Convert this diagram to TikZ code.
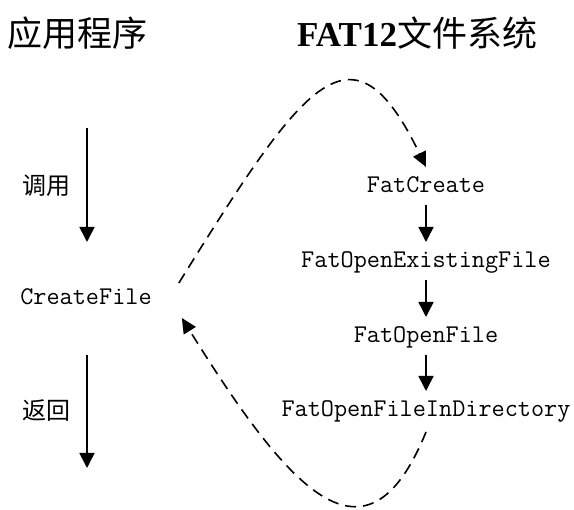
\documentclass[tikz,border=0pt]{standalone}
\usepackage{fontspec}
\setmainfont{Liberation Serif}
\newfontfamily\cjk{Noto Sans CJK SC}
\usetikzlibrary{arrows.meta}

\begin{document}
\begin{tikzpicture}[x=1pt, y=-1pt,
  title/.style={font=\fontsize{35}{38}\selectfont, inner sep=0pt, anchor=base},
  lbl/.style={font=\fontsize{24}{26}\cjk, inner sep=0pt},
  fn/.style={font=\fontsize{25.5}{28}\ttfamily, inner sep=0pt, anchor=base},
  call/.style={line width=1.6pt, -{Triangle[length=15pt, width=15pt]}},
  back/.style={line width=1.6pt, dash pattern=on 11pt off 7pt, -{Triangle[length=15pt, width=14pt]}}]
\useasboundingbox (0,0) rectangle (574,510);

% titles
\node[title] (app) at (78,47) {\cjk 应用程序};
\node[title, anchor=base west] (fs) at (297,47) {\bfseries FAT12\cjk\mdseries 文件系统};

% application side
\node[fn] (create) at (86,305) {CreateFile};
\coordinate (callTop) at (87,128);
\coordinate (callEnd) at (87,242);
\coordinate (retTop) at (87,355);
\coordinate (retEnd) at (87,468);
\draw[call] (callTop) -- (callEnd);
\draw[call] (retTop) -- (retEnd);
\node[lbl] (callLbl) at (47,186) {调用};
\node[lbl] (retLbl) at (47,411) {返回};

% file system side
\node[fn] (fc) at (426,193) {FatCreate};
\node[fn] (ofe) at (426,268) {FatOpenExistingFile};
\node[fn] (of) at (426,343) {FatOpenFile};
\node[fn] (ofid) at (426,417) {FatOpenFileInDirectory};
\draw[call] ([yshift=-12pt]fc.base) -- ([yshift=26pt]ofe.base);
\draw[call] ([yshift=-12pt]ofe.base) -- ([yshift=26pt]of.base);
\draw[call] ([yshift=-12pt]of.base) -- ([yshift=26pt]ofid.base);

% dashed call / return curves
\draw[back] ([xshift=27pt, yshift=22pt]create.base east) .. controls (305,80) and (352,14) .. ([yshift=26pt]fc.base);
\draw[back] ([yshift=-15pt]ofid.base) .. controls (366,579) and (289,490) .. ([xshift=30pt, yshift=-13pt]create.base east);
\end{tikzpicture}
\end{document}
